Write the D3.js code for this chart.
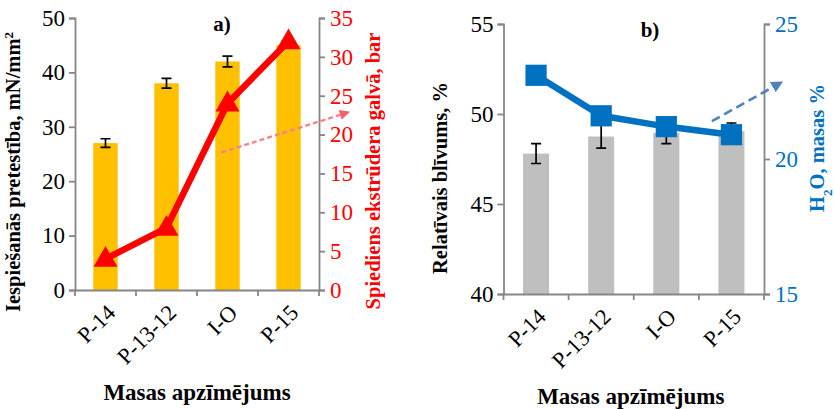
<!DOCTYPE html>
<html>
<head>
<meta charset="utf-8">
<script src="https://cdn.jsdelivr.net/npm/d3@7"></script>
<style>
  body { margin: 0; background: #fff; }
  svg { font-family: "Liberation Serif", "Times New Roman", serif; }
</style>
</head>
<body>
<div id="graph"></div>
<script>
// categories shared by both panels
var categories = ["P-14", "P-13-12", "I-O", "P-15"];

// panel a
var strength = [27, 38, 42, 45];
var strengthErr = [0.8, 0.9, 1.0, 0];
var pressure = [4, 8, 24, 32];
var leftTicksA = [0, 10, 20, 30, 40, 50];
var rightTicksA = [0, 5, 10, 15, 20, 25, 30, 35];

// panel b
var density = [47.8, 48.75, 48.95, 49.05];
var densityErr = [0.55, 0.65, 0.6, 0.45];
var moisture = [23.1, 21.6, 21.2, 20.9];
var leftTicksB = [40, 45, 50, 55];
var rightTicksB = [15, 20, 25];

var svgWidth = 834, svgHeight = 409;
var axisColor = "#868686";

var $svg = d3.select("#graph").append("svg")
    .attr("width", svgWidth)
    .attr("height", svgHeight);

var defs = $svg.append("defs");
function arrowMarker(id, color){
    defs.append("marker")
        .attr("id", id)
        .attr("viewBox", "0 0 10 10")
        .attr("refX", 9).attr("refY", 5)
        .attr("markerWidth", 4.5).attr("markerHeight", 4.5)
        .attr("markerUnits", "strokeWidth")
        .attr("orient", "auto")
        .append("path")
        .attr("d", "M0,0 L10,5 L0,10 Z")
        .attr("fill", color);
}
arrowMarker("arrA", "#f5626c");
arrowMarker("arrB", "#4f81bd");

function panel(cfg){
    var g = $svg.append("g");
    var x = d3.scaleBand().domain(categories).range([cfg.left, cfg.right]);
    var yL = d3.scaleLinear().domain(cfg.leftDomain).range([cfg.bottom, cfg.top]);
    var yR = d3.scaleLinear().domain(cfg.rightDomain).range([cfg.bottom, cfg.top]);
    var barW = x.bandwidth()*0.4;
    var cx = d => x(d) + x.bandwidth()/2;

    // bars
    g.selectAll(".bar").data(cfg.bars).enter().append("rect")
        .attr("x", (d,i) => cx(categories[i]) - barW/2)
        .attr("y", d => yL(d))
        .attr("width", barW)
        .attr("height", d => cfg.bottom - yL(d))
        .attr("fill", cfg.barColor);

    // error bars
    cfg.bars.forEach((d,i) => {
        var e = cfg.err[i];
        if (!e) return;
        var xc = cx(categories[i]);
        g.append("path")
            .attr("d", `M${xc-5},${yL(d+e)} H${xc+5} M${xc},${yL(d+e)} V${yL(d-e)} M${xc-5},${yL(d-e)} H${xc+5}`)
            .attr("stroke", "#000").attr("stroke-width", 1.7).attr("fill", "none");
    });

    // axes
    var axL = g.append("g").attr("transform", `translate(${cfg.left},0)`)
        .call(d3.axisLeft(yL).tickValues(cfg.leftTicks).tickSize(6).tickPadding(4));
    var axR = g.append("g").attr("transform", `translate(${cfg.right},0)`)
        .call(d3.axisRight(yR).tickValues(cfg.rightTicks).tickSize(6).tickPadding(5));
    var axX = g.append("g").attr("transform", `translate(0,${cfg.bottom})`)
        .call(d3.axisBottom(x).tickSize(0).tickFormat(""));
    [axL, axR, axX].forEach(a => {
        a.attr("font-size", 23).attr("font-family", "Liberation Serif");
        a.select(".domain").attr("stroke", axisColor).attr("stroke-width", 1.8);
        a.selectAll(".tick line").attr("stroke", axisColor).attr("stroke-width", 1.8);
    });
    axL.selectAll("text").attr("fill", "#000");
    axR.selectAll("text").attr("fill", cfg.rightColor);

    // category boundary ticks
    var bounds = categories.map(c => x(c)).concat([cfg.right]);
    g.selectAll(".btick").data(bounds).enter().append("line")
        .attr("x1", d => d).attr("x2", d => d)
        .attr("y1", cfg.bottom).attr("y2", cfg.bottom + 6)
        .attr("stroke", axisColor).attr("stroke-width", 1.8);

    // rotated category labels
    g.selectAll(".xlab").data(categories).enter().append("text")
        .attr("transform", d => `translate(${cx(d)},${cfg.bottom+13}) rotate(-45)`)
        .attr("text-anchor", "end")
        .attr("dy", "0.7em")
        .attr("font-size", 22.5)
        .text(d => d);

    // line series
    var line = d3.line().x((d,i) => cx(categories[i])).y(d => yR(d));
    g.append("path").datum(cfg.line)
        .attr("d", line)
        .attr("fill", "none")
        .attr("stroke", cfg.lineColor)
        .attr("stroke-width", 6.5)
        .attr("stroke-linejoin", "round");
    var sym = d3.symbol().type(cfg.symbol).size(cfg.symbolSize);
    g.selectAll(".pt").data(cfg.line).enter().append("path")
        .attr("d", sym)
        .attr("transform", (d,i) => `translate(${cx(categories[i])},${yR(d) + cfg.symbolDy})`)
        .attr("fill", cfg.lineColor);

    // dashed annotation arrow
    var a = cfg.arrow;
    g.append("line")
        .attr("x1", cx(categories[a.fromCat]) + a.fromDx*x.bandwidth())
        .attr("y1", yR(a.fromVal))
        .attr("x2", cfg.right + a.toDx)
        .attr("y2", yR(a.toVal))
        .attr("stroke", a.color)
        .attr("stroke-width", a.width)
        .attr("stroke-dasharray", a.dash)
        .attr("marker-end", `url(#${a.marker})`);

    // panel letter
    g.append("text")
        .attr("x", cfg.letterX).attr("y", cfg.top + 13)
        .attr("text-anchor", "middle")
        .attr("font-size", 21).attr("font-weight", "bold")
        .text(cfg.letter);

    // axis titles
    g.append("text")
        .attr("transform", `translate(${cfg.left + cfg.leftTitleDx},${cfg.leftTitleY}) rotate(-90)`)
        .attr("text-anchor", "middle")
        .attr("font-size", 20.5).attr("font-weight", "bold")
        .call(cfg.leftTitle);
    g.append("text")
        .attr("transform", `translate(${cfg.right + cfg.rightTitleDx},${cfg.rightTitleY}) rotate(-90)`)
        .attr("text-anchor", "middle")
        .attr("font-size", 20.5).attr("font-weight", "bold")
        .attr("fill", cfg.rightColor)
        .call(cfg.rightTitle);
    g.append("text")
        .attr("x", (cfg.left + cfg.right)/2 + cfg.xTitleDx)
        .attr("y", cfg.xTitleY)
        .attr("text-anchor", "middle")
        .attr("font-size", 23).attr("font-weight", "bold")
        .text("Masas apzīmējums");
}

panel({
    left: 75, right: 319, top: 18, bottom: 290,
    leftDomain: [0, 50], rightDomain: [0, 35],
    leftTicks: leftTicksA, rightTicks: rightTicksA,
    bars: strength, err: strengthErr, barColor: "#ffc000",
    line: pressure, lineColor: "#ff0000", rightColor: "#ff0000",
    symbol: d3.symbolTriangle, symbolSize: 250, symbolDy: 1,
    arrow: {fromCat: 2, fromDx: -0.1, fromVal: 17.7, toDx: 30, toVal: 22.9,
            color: "#f5828a", width: 2.3, dash: "5,3", marker: "arrA"},
    letter: "a)", letterX: 222,
    leftTitleDx: -55,
    leftTitle: t => { t.append("tspan").text("Iespiešanās pretestība, mN/mm");
                      t.append("tspan").attr("baseline-shift", "super").attr("font-size", 13).text("2"); },
    leftTitleY: 172, rightTitleDx: 61, rightTitleY: 171,
    rightTitle: t => t.text("Spiediens ekstrūdera galvā, bar"),
    xTitleDx: 0, xTitleY: 400
});

panel({
    left: 503.5, right: 764, top: 24, bottom: 294,
    leftDomain: [40, 55], rightDomain: [15, 25],
    leftTicks: leftTicksB, rightTicks: rightTicksB,
    bars: density, err: densityErr, barColor: "#bfbfbf",
    line: moisture, lineColor: "#0070c0", rightColor: "#0070c0",
    symbol: d3.symbolSquare, symbolSize: 450, symbolDy: 0,
    arrow: {fromCat: 3, fromDx: -0.3, fromVal: 21.4, toDx: 18, toVal: 22.85,
            color: "#4f81bd", width: 2.6, dash: "9,5", marker: "arrB"},
    letter: "b)", letterX: 650,
    leftTitleDx: -57,
    leftTitle: t => t.text("Relatīvais blīvums, %"),
    leftTitleY: 178, rightTitleDx: 60, rightTitleY: 148,
    rightTitle: t => { t.append("tspan").text("H");
                       t.append("tspan").attr("baseline-shift", "sub").attr("font-size", 13).text("2");
                       t.append("tspan").text("O, masas %"); },
    xTitleDx: -3, xTitleY: 404
});
</script>
</body>
</html>
